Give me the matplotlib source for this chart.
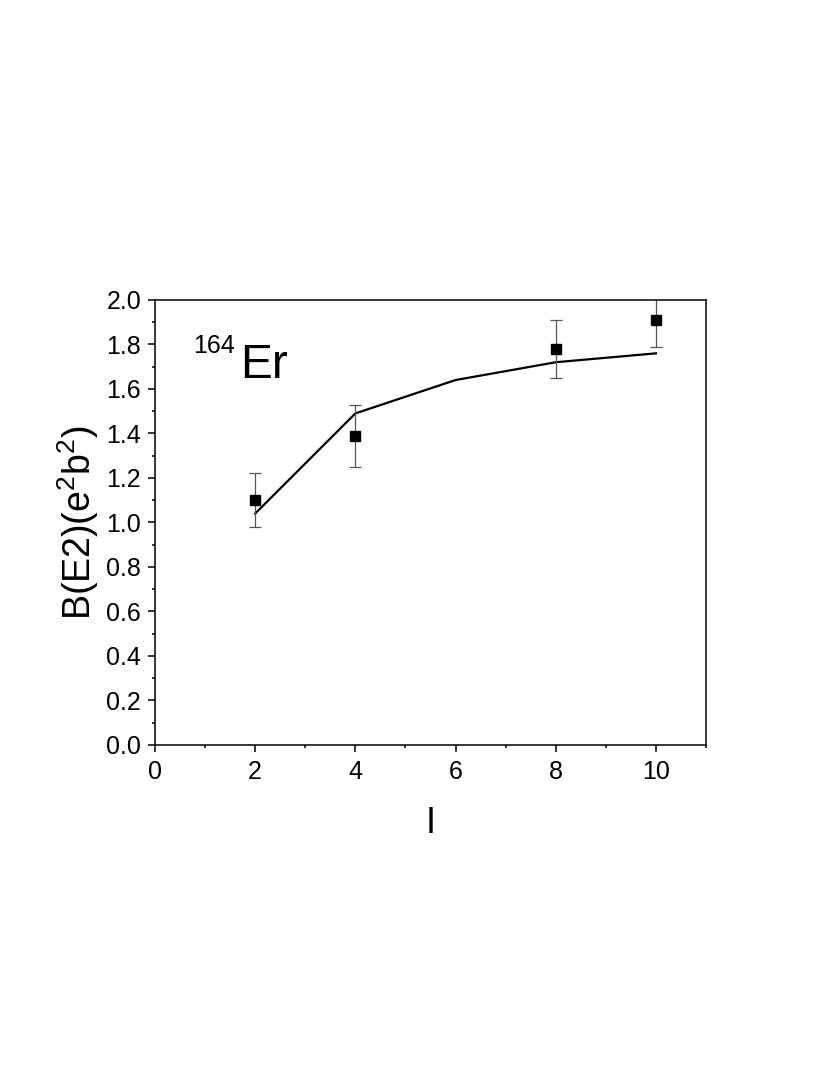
import matplotlib
matplotlib.use("Agg")
import matplotlib.pyplot as plt
from matplotlib.ticker import MultipleLocator

plt.rcParams['font.family'] = ['Liberation Sans', 'DejaVu Sans']
plt.rcParams['mathtext.fontset'] = 'custom'
plt.rcParams['mathtext.rm'] = 'Liberation Sans'
plt.rcParams['mathtext.it'] = 'Liberation Sans'

# experimental B(E2) values
spin_exp = [2, 4, 8, 10]
be2_exp = [1.10, 1.39, 1.78, 1.91]
be2_err = [0.12, 0.14, 0.13, 0.12]

# calculated curve
spin_th = [2, 4, 6, 8, 10]
be2_th = [1.04, 1.49, 1.64, 1.72, 1.76]

fig = plt.figure(figsize=(8.3, 10.75), dpi=100)
ax = fig.add_axes([0.1867, 0.307, 0.664, 0.414])

ax.plot(spin_th, be2_th, color="black", lw=1.6)
ax.errorbar(spin_exp, be2_exp, yerr=be2_err, fmt="s", color="black",
            ms=7, ecolor="#555555", elinewidth=0.9, capsize=4, capthick=0.9)

ax.set_xlim(0, 11)
ax.set_ylim(0, 2.0)
ax.xaxis.set_major_locator(MultipleLocator(2))
ax.xaxis.set_minor_locator(MultipleLocator(1))
ax.yaxis.set_major_locator(MultipleLocator(0.2))
ax.yaxis.set_minor_locator(MultipleLocator(0.1))
ax.yaxis.set_major_formatter(plt.FormatStrFormatter("%.1f"))
ax.tick_params(which="major", direction="out", length=5, width=1.1,
               labelsize=18, pad=5)
ax.tick_params(axis="x", which="major", pad=6)
ax.tick_params(which="minor", direction="out", length=2.5, width=1.1)
for s in ax.spines.values():
    s.set_linewidth(1.1)

ax.set_xlabel("I", fontsize=26, labelpad=16)
ax.set_ylabel(r"B(E2)(e$^2$b$^2$)", fontsize=27, labelpad=4)

ax.text(0.069, 0.881, "164", transform=ax.transAxes, fontsize=18,
        va="baseline", ha="left")
ax.text(0.154, 0.825, "Er", transform=ax.transAxes, fontsize=34.5,
        va="baseline", ha="left")

fig.savefig("out.png", dpi=100)
